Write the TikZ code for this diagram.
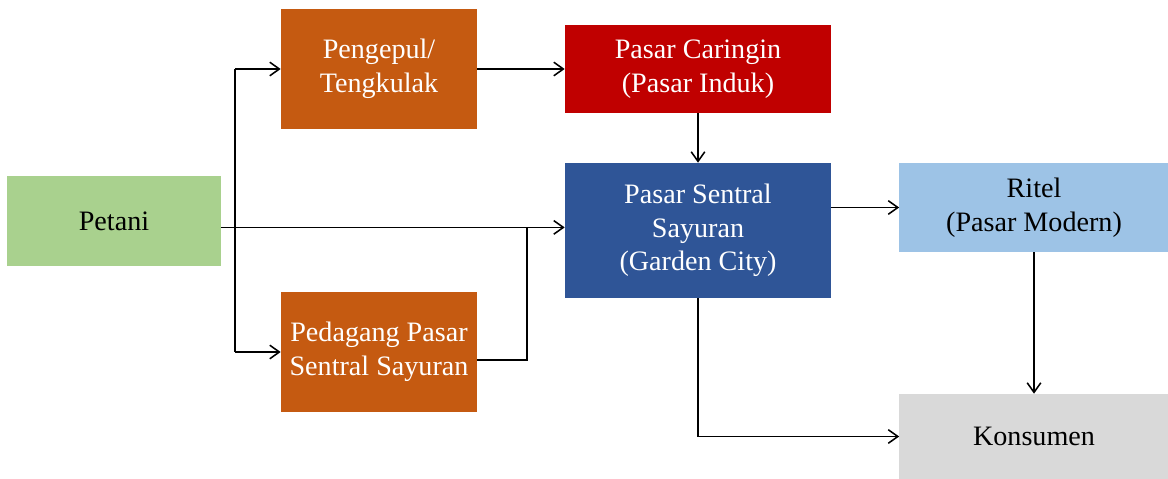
\documentclass[tikz,border=0pt]{standalone}
\usepackage{fontspec}
\setmainfont{Liberation Serif}
\usepackage{tikz}
\usetikzlibrary{arrows.meta,positioning,calc}
\definecolor{hijauc}{HTML}{A9D18E}
\definecolor{oranyec}{HTML}{C55A11}
\definecolor{merahc}{HTML}{C00000}
\definecolor{biruc}{HTML}{2F5597}
\definecolor{birumc}{HTML}{9DC3E6}
\definecolor{abuc}{HTML}{D9D9D9}
\tikzset{
  >={Straight Barb[length=2.4mm,width=3.4mm]},
  blok/.style={inner sep=2pt,align=center,font=\fontsize{20}{24}\selectfont},
  tani/.style={blok,fill=hijauc,text=black,minimum width=5.35cm,minimum height=2.25cm},
  antara/.style={blok,fill=oranyec,text=white,minimum width=4.9cm,minimum height=3cm},
  induk/.style={blok,fill=merahc,text=white,minimum width=6.65cm,minimum height=2.2cm},
  sentral/.style={blok,fill=biruc,text=white,minimum width=6.65cm,minimum height=3.375cm},
  ritel/.style={blok,fill=birumc,text=black,minimum width=6.725cm,minimum height=2.225cm},
  akhir/.style={blok,fill=abuc,text=black,minimum width=6.725cm,minimum height=2.125cm},
  alur/.style={line width=1.1pt,draw=black},
}
\begin{document}
\begin{tikzpicture}[x=0.025cm,y=-0.025cm]
  \useasboundingbox (0,0) rectangle (1168,479);
  % kotak
  \node[tani] (petani) at (114,221) {Petani};
  \node[antara] (pengepul) at (379,69) {Pengepul/\\Tengkulak};
  \node[antara] (pedagang) at (379,352) {Pedagang Pasar\\Sentral Sayuran};
  \node[induk] (caringin) at (698,69) {Pasar Caringin\\(Pasar Induk)};
  \node[sentral] (psentral) at (698,230.5) {Pasar Sentral\\Sayuran\\(Garden City)};
  \node[ritel] (ritel) at (1034,207.5) {Ritel\\(Pasar Modern)};
  \node[akhir] (konsumen) at (1034,436.5) {Konsumen};
  \coordinate (cabang) at (235,0);
  \coordinate (gabung) at (527,0);
  \coordinate (utama) at ([yshift=-0.16cm]petani.east);
  % alur
  \draw[alur,->] (utama) -- (utama -| psentral.west);
  \draw[alur] (cabang |- pengepul.west) -- (cabang |- pedagang.west);
  \draw[alur,->] (cabang |- pengepul.west) -- (pengepul.west);
  \draw[alur,->] (cabang |- pedagang.west) -- (pedagang.west);
  \draw[alur,->] (pengepul.east) -- (caringin.west);
  \draw[alur,->] (caringin.south) -- (psentral.north);
  \draw[alur] ([yshift=-0.2cm]pedagang.east) -| (gabung |- utama);
  \draw[alur,->] (psentral.east |- ritel.west) -- (ritel.west);
  \draw[alur,->] (ritel.south) -- (konsumen.north);
  \draw[alur,->] (psentral.south) |- (konsumen.west);
\end{tikzpicture}
\end{document}
